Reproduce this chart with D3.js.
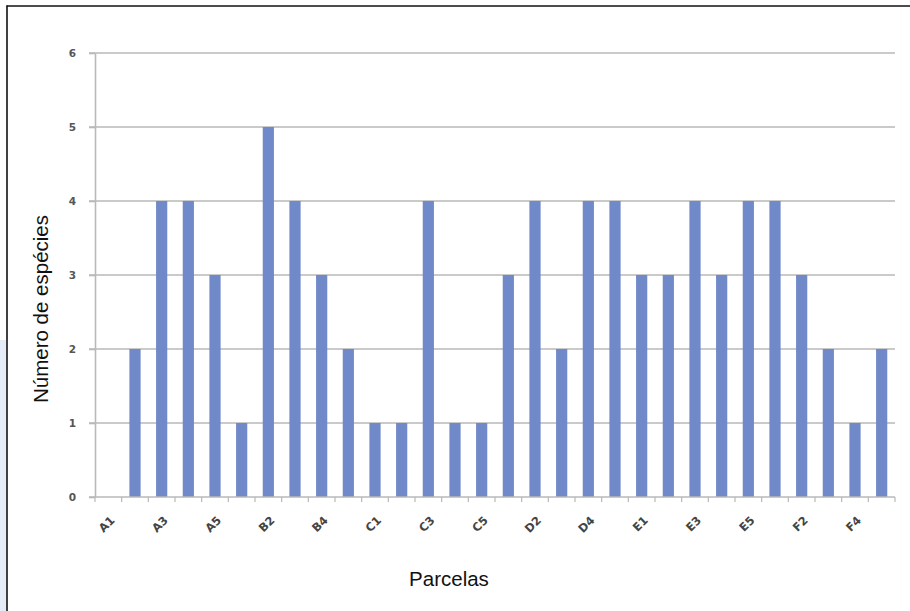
<!DOCTYPE html>
<html>
<head>
<meta charset="utf-8">
<script src="https://cdn.jsdelivr.net/npm/d3@7"></script>
<style>
  html, body { margin: 0; padding: 0; background: #fff; }
  svg { display: block; }
</style>
</head>
<body>
<svg id="chart" width="910" height="611"></svg>
<script>
// Plots (parcelas) and number of species recorded in each
const parcelas = [
  "A1","A2","A3","A4","A5",
  "B1","B2","B3","B4","B5",
  "C1","C2","C3","C4","C5",
  "D1","D2","D3","D4","D5",
  "E1","E2","E3","E4","E5",
  "F1","F2","F3","F4","F5"
];
const especies = [
  0, 2, 4, 4, 3,
  1, 5, 4, 3, 2,
  1, 1, 4, 1, 1,
  3, 4, 2, 4, 4,
  3, 3, 4, 3, 4,
  4, 3, 2, 1, 2
];
const yTicks = [0, 1, 2, 3, 4, 5, 6];
// every other plot gets a label on the category axis
const xTickLabels = ["A1","A3","A5","B2","B4","C1","C3","C5","D2","D4","E1","E3","E5","F2","F4"];

const svg = d3.select("#chart");

// frame decoration: light blue band at far left, dark frame lines
svg.append("rect")
  .attr("x", 0).attr("y", 340).attr("width", 6).attr("height", 271)
  .attr("fill", "#e4edf7");
svg.append("line")
  .attr("x1", 7).attr("x2", 7).attr("y1", 5.5).attr("y2", 611)
  .attr("stroke", "#111").attr("stroke-width", 1.6);
svg.append("line")
  .attr("x1", 6.5).attr("x2", 910).attr("y1", 6).attr("y2", 6)
  .attr("stroke", "#111").attr("stroke-width", 1.6);

const plotLeft = 95, plotRight = 895, plotTop = 53, plotBottom = 497;

const x = d3.scaleBand()
  .domain(parcelas)
  .range([plotLeft, plotRight])
  .paddingInner(0.58)
  .paddingOuter(0.29);

const y = d3.scaleLinear()
  .domain([0, 6])
  .range([plotBottom, plotTop]);

// horizontal gridlines
svg.append("g")
  .selectAll("line")
  .data(yTicks.filter(d => d > 0))
  .join("line")
  .attr("x1", plotLeft - 6).attr("x2", plotRight)
  .attr("y1", d => y(d)).attr("y2", d => y(d))
  .attr("stroke", "#b9b9b9").attr("stroke-width", 1.6);

// y axis
const yAxis = svg.append("g")
  .attr("transform", `translate(${plotLeft},0)`)
  .call(d3.axisLeft(y).tickValues(yTicks).tickFormat(d3.format("d"))
    .tickSize(6).tickSizeOuter(0).tickPadding(13));
yAxis.select(".domain").attr("stroke", "#b9b9b9").attr("stroke-width", 1.6);
yAxis.selectAll(".tick line").attr("stroke", "#b9b9b9").attr("stroke-width", 1.6);
yAxis.selectAll(".tick text")
  .attr("fill", "#555")
  .attr("font-family", "'DejaVu Sans', sans-serif")
  .attr("font-weight", "bold")
  .attr("font-size", 10.5);

// bars
svg.append("g")
  .selectAll("rect")
  .data(parcelas.map((p, i) => ({ p, v: especies[i] })))
  .join("rect")
  .attr("x", d => x(d.p))
  .attr("y", d => y(d.v))
  .attr("width", x.bandwidth())
  .attr("height", d => y(0) - y(d.v))
  .attr("fill", "#7089c8");

// x axis: baseline with ticks at category boundaries
const boundaries = d3.range(parcelas.length + 1).map(i => plotLeft + i * x.step());
const xg = svg.append("g");
xg.append("line")
  .attr("x1", plotLeft - 6).attr("x2", plotRight)
  .attr("y1", plotBottom).attr("y2", plotBottom)
  .attr("stroke", "#b9b9b9").attr("stroke-width", 1.6);
xg.selectAll("line.tk")
  .data(boundaries)
  .join("line")
  .attr("class", "tk")
  .attr("x1", d => d).attr("x2", d => d)
  .attr("y1", plotBottom).attr("y2", plotBottom + 5)
  .attr("stroke", "#b9b9b9").attr("stroke-width", 1.2);
xg.selectAll("text.lbl")
  .data(xTickLabels)
  .join("text")
  .attr("class", "lbl")
  .attr("transform", d => `translate(${x(d) + x.bandwidth() / 2 + 7},${plotBottom + 24}) rotate(-45)`)
  .attr("text-anchor", "end")
  .attr("fill", "#444")
  .attr("font-family", "'DejaVu Sans', sans-serif")
  .attr("font-weight", "bold")
  .attr("font-size", 11.5)
  .text(d => d);

// axis titles
svg.append("text")
  .attr("transform", `translate(48,309) rotate(-90)`)
  .attr("text-anchor", "middle")
  .attr("font-family", "'Liberation Sans', Arial, sans-serif")
  .attr("font-size", 20.5)
  .attr("fill", "#111")
  .text("Número de espécies");
svg.append("text")
  .attr("x", 449).attr("y", 586)
  .attr("text-anchor", "middle")
  .attr("font-family", "'Liberation Sans', Arial, sans-serif")
  .attr("font-size", 20.5)
  .attr("fill", "#111")
  .text("Parcelas");
</script>
</body>
</html>
